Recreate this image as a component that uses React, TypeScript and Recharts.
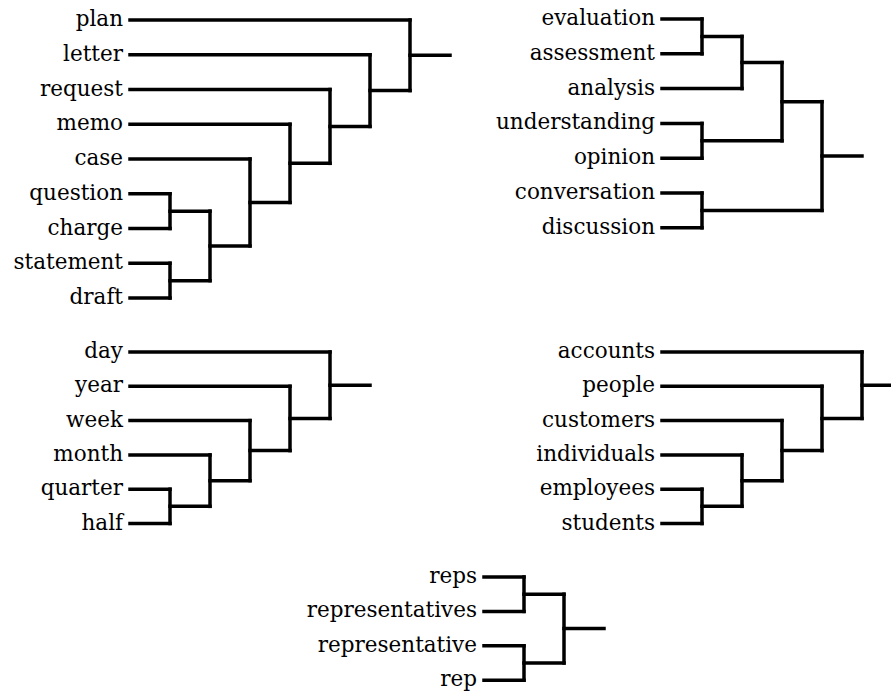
import React from 'react';
import { ScatterChart, Scatter, XAxis, YAxis, ReferenceLine } from 'recharts';

// Leaf labels (top to bottom) for each dendrogram
const leavesA = ['plan', 'letter', 'request', 'memo', 'case', 'question', 'charge', 'statement', 'draft'];
const leavesB = ['evaluation', 'assessment', 'analysis', 'understanding', 'opinion', 'conversation', 'discussion'];
const leavesC = ['day', 'year', 'week', 'month', 'quarter', 'half'];
const leavesD = ['accounts', 'people', 'customers', 'individuals', 'employees', 'students'];
const leavesE = ['reps', 'representatives', 'representative', 'rep'];

// Merges: [childA, childB, merge level]; node ids 0..n-1 are leaves, new clusters get n, n+1, ...
const mergesA = [[5, 6, 1], [7, 8, 1], [9, 10, 2], [4, 11, 3], [3, 12, 4], [2, 13, 5], [1, 14, 6], [0, 15, 7]];
const mergesB = [[0, 1, 1], [7, 2, 2], [3, 4, 1], [8, 9, 3], [5, 6, 1], [10, 11, 4]];
const mergesC = [[4, 5, 1], [3, 6, 2], [2, 7, 3], [1, 8, 4], [0, 9, 5]];
const mergesD = [[4, 5, 1], [3, 6, 2], [2, 7, 3], [1, 8, 4], [0, 9, 5]];
const mergesE = [[0, 1, 1], [2, 3, 1], [4, 5, 2]];

const W = 891;
const H = 691;
const CHART_W = 930;
const UNIT_X = 40;
const AXIS_W = 100;

type Seg = [{ x: number; y: number }, { x: number; y: number }];

function buildTree(leaves: string[], merges: number[][]) {
  const nodes: { x: number; y: number }[] = leaves.map((_, i) => ({ x: 0, y: i }));
  const segs: Seg[] = [];
  merges.forEach(([a, b, lvl]) => {
    const na = nodes[a];
    const nb = nodes[b];
    segs.push([{ x: na.x, y: na.y }, { x: lvl, y: na.y }]);
    segs.push([{ x: nb.x, y: nb.y }, { x: lvl, y: nb.y }]);
    segs.push([{ x: lvl, y: na.y }, { x: lvl, y: nb.y }]);
    nodes.push({ x: lvl, y: (na.y + nb.y) / 2 });
  });
  const root = nodes[nodes.length - 1];
  segs.push([{ x: root.x, y: root.y }, { x: root.x + 1, y: root.y }]);
  return { nodes, segs, maxX: root.x + 1 };
}

const makeTick = (labels: string[]) => (props: any) => {
  const { x, y, payload } = props;
  return (
    <text
      x={x}
      y={y}
      dy={6}
      textAnchor="end"
      fontFamily="'DejaVu Serif', serif"
      fontSize={21.5}
      fill="#000"
    >
      {labels[payload.value]}
    </text>
  );
};

function Dendrogram({ leaves, merges, left, top, stepY }: { leaves: string[]; merges: number[][]; left: number; top: number; stepY: number }) {
  const { nodes, segs, maxX } = buildTree(leaves, merges);
  const n = leaves.length;
  const plotW = maxX * UNIT_X;
  const plotH = (n - 1) * stepY;
  const ticks = leaves.map((_, i) => i);
  return (
    <div style={{ position: 'absolute', left: 0, top: 0 }}>
      <ScatterChart
        width={CHART_W}
        height={H}
        margin={{ left: left - AXIS_W, top, right: CHART_W - left - plotW, bottom: H - top - plotH }}
      >
        <XAxis type="number" dataKey="x" domain={[0, maxX]} hide allowDataOverflow />
        <YAxis
          type="number"
          dataKey="y"
          domain={[0, n - 1]}
          reversed
          ticks={ticks}
          interval={0}
          width={AXIS_W}
          axisLine={false}
          tickLine={false}
          tickSize={0}
          tickMargin={7}
          tick={makeTick(leaves)}
          allowDataOverflow
        />
        <Scatter data={nodes} isAnimationActive={false} shape={() => <g />} />
        {segs.map((s, i) => (
          <ReferenceLine
            key={i}
            segment={s}
            stroke="#000"
            strokeWidth={3.5}
            strokeLinecap="square"
            ifOverflow="visible"
          />
        ))}
      </ScatterChart>
    </div>
  );
}

export default function App() {
  return (
    <div style={{ position: 'absolute', left: 0, top: 0, width: W, height: H, overflow: 'hidden', background: '#fff' }}>
      <Dendrogram leaves={leavesA} merges={mergesA} left={130} top={20} stepY={34.75} />
      <Dendrogram leaves={leavesB} merges={mergesB} left={662} top={19} stepY={34.8} />
      <Dendrogram leaves={leavesC} merges={mergesC} left={130} top={352} stepY={34.3} />
      <Dendrogram leaves={leavesD} merges={mergesD} left={662} top={352} stepY={34.3} />
      <Dendrogram leaves={leavesE} merges={mergesE} left={484} top={577} stepY={34.4} />
    </div>
  );
}
